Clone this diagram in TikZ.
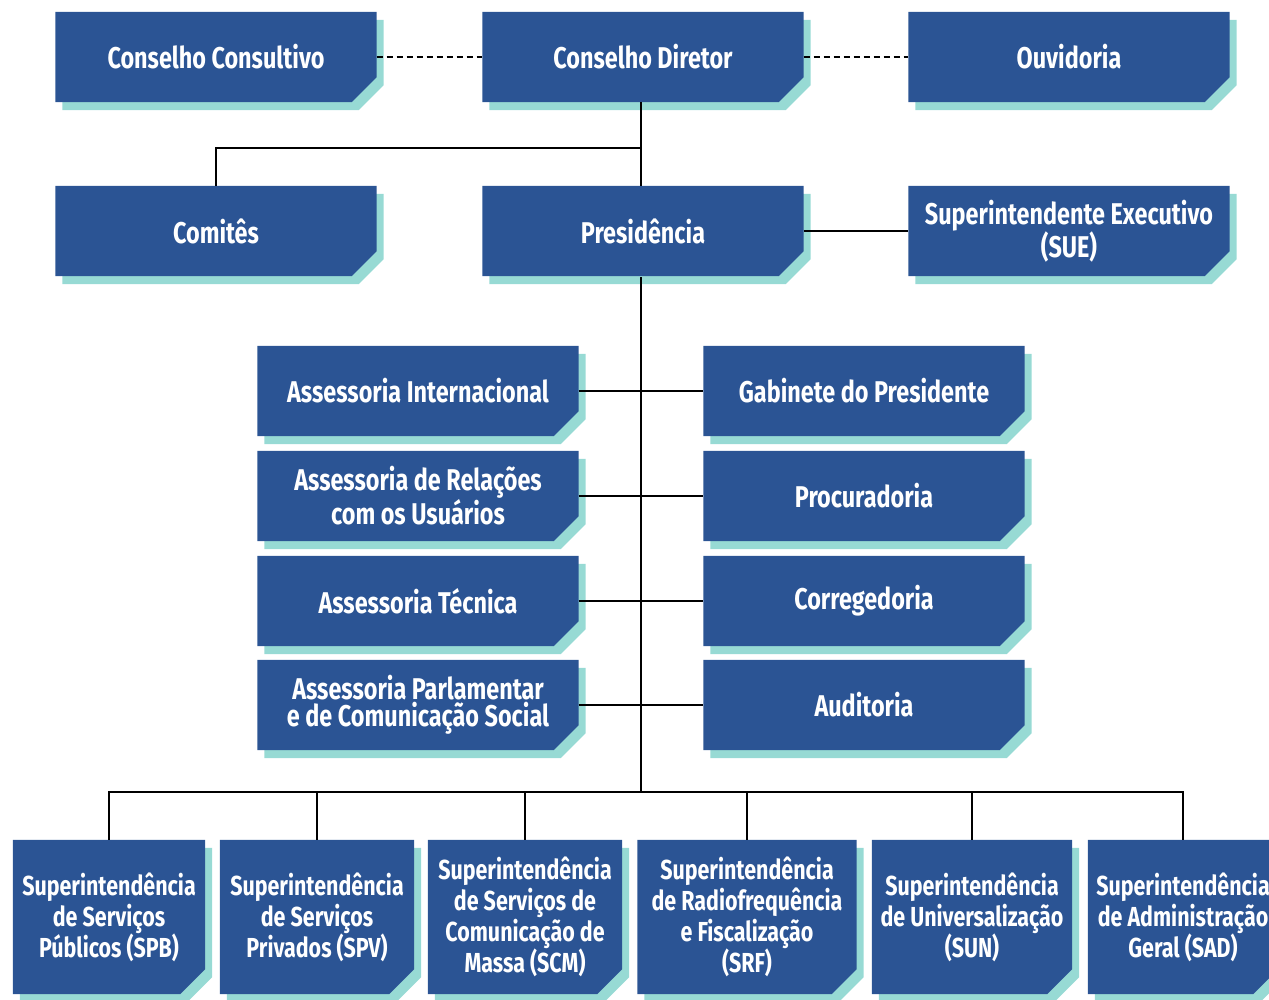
\documentclass[tikz,border=0pt]{standalone}
\usepackage{fontspec}
\usetikzlibrary{backgrounds}
\newfontfamily\boxfont[FakeStretch=0.78]{Fira Sans}
\definecolor{orgblue}{HTML}{2B5494}
\definecolor{orgteal}{HTML}{97DAD4}
\tikzset{
	orgbox/.style={rectangle,text=white,align=center,inner sep=0pt,
		minimum width=321pt,minimum height=90pt,font=\boxfont\bfseries\fontsize{30}{27.5}\selectfont},
	supbox/.style={orgbox,minimum height=154pt,font=\boxfont\bfseries\fontsize{27.5}{31}\selectfont},
	link/.style={line width=1.6pt},
	dotlink/.style={line width=1.2pt,dash pattern=on 6pt off 4pt},
	sh/.style={xshift=7pt,yshift=-8pt}
}
% chamfered box behind a node, with its teal shadow
\newcommand\orgshape[1]{%
	\fill[orgteal] ([sh]#1.north west) -- ([sh]#1.north east) -- ([sh,yshift=25pt]#1.south east) -- ([sh,xshift=-25pt]#1.south east) -- ([sh]#1.south west) -- cycle;
	\fill[orgblue] (#1.north west) -- (#1.north east) -- ([yshift=25pt]#1.south east) -- ([xshift=-25pt]#1.south east) -- (#1.south west) -- cycle;}
\begin{document}
		\begin{tikzpicture}[x=1pt,y=-1pt]
			\useasboundingbox (0,0) rectangle (1269,999);
			\clip (0,0) rectangle (1269,999);
			%CONSELHO
			\node[orgbox] (cc) at (216,57) {Conselho Consultivo};
			\node[orgbox] (cd) at (643,57) {Conselho Diretor};
			\node[orgbox] (ouv) at (1069,57) {Ouvidoria};
			\node[orgbox] (com) at (216,231) {Comitês};
			\node[orgbox] (pres) at (643,231) {Presidência};
			\node[orgbox] (sue) at (1069,231) {Superintendente Executivo\\(SUE)};
			%ASSESSORIAS
			\node[orgbox] (ai) at (418,391) {Assessoria Internacional};
			\node[orgbox] (aru) at (418,496) {Assessoria de Relações\\com os Usuários};
			\node[orgbox] (at) at (418,601) {Assessoria Técnica};
			\node[orgbox] (apc) at (418,705) {Assessoria Parlamentar\\e de Comunicação Social};
			\node[orgbox] (gp) at (864,391) {Gabinete do Presidente};
			\node[orgbox] (proc) at (864,496) {Procuradoria};
			\node[orgbox] (corr) at (864,601) {Corregedoria};
			\node[orgbox] (aud) at (864,705) {Auditoria};
			%SUPERINTENDENCIAS
			\node[supbox,minimum width=192pt] (spb) at (109,917) {Superintendência\\de Serviços\\Públicos (SPB)};
			\node[supbox,minimum width=194pt] (spv) at (317,917) {Superintendência\\de Serviços\\Privados (SPV)};
			\node[supbox,minimum width=194pt] (scm) at (525,917) {Superintendência\\de Serviços de\\Comunicação de\\Massa (SCM)};
			\node[supbox,minimum width=219pt] (srf) at (747,917) {Superintendência\\de Radiofrequência\\e Fiscalização\\(SRF)};
			\node[supbox,minimum width=200pt] (sun) at (972,917) {Superintendência\\de Universalização\\(SUN)};
			\node[supbox,minimum width=190pt] (sad) at (1183,917) {Superintendência\\de Administração\\Geral (SAD)};
			\begin{scope}[on background layer]
				\foreach \n in {cc,cd,ouv,com,pres,sue,ai,aru,at,apc,gp,proc,corr,aud,spb,spv,scm,srf,sun,sad}
					{\orgshape{\n}}
			\end{scope}
			%LINKS
			\coordinate (j1) at (641,148);
			\coordinate (j2) at (641,102);
			\coordinate (j3) at (641,277);
			\coordinate (bus) at (641,792);
			\draw[dotlink] (cc.east) -- (cd.west);
			\draw[dotlink] (cd.east) -- (ouv.west);
			\draw[link] (j2) -- (j1) -- (pres.north -| j2);
			\draw[link] (com.north) |- (j1);
			\draw[link] (pres.east) -- (sue.west);
			\draw[link] (j3) -- (bus);
			\foreach \l/\r in {ai/gp,aru/proc,at/corr,apc/aud}
				\draw[link] (\l.east) -- (\r.west);
			\draw[link] (spb.north) |- (bus) -| (sad.north);
			\foreach \s in {spv,scm,srf,sun}
				\draw[link] (\s.north) -- (\s.north |- bus);
		\end{tikzpicture}
\end{document}
